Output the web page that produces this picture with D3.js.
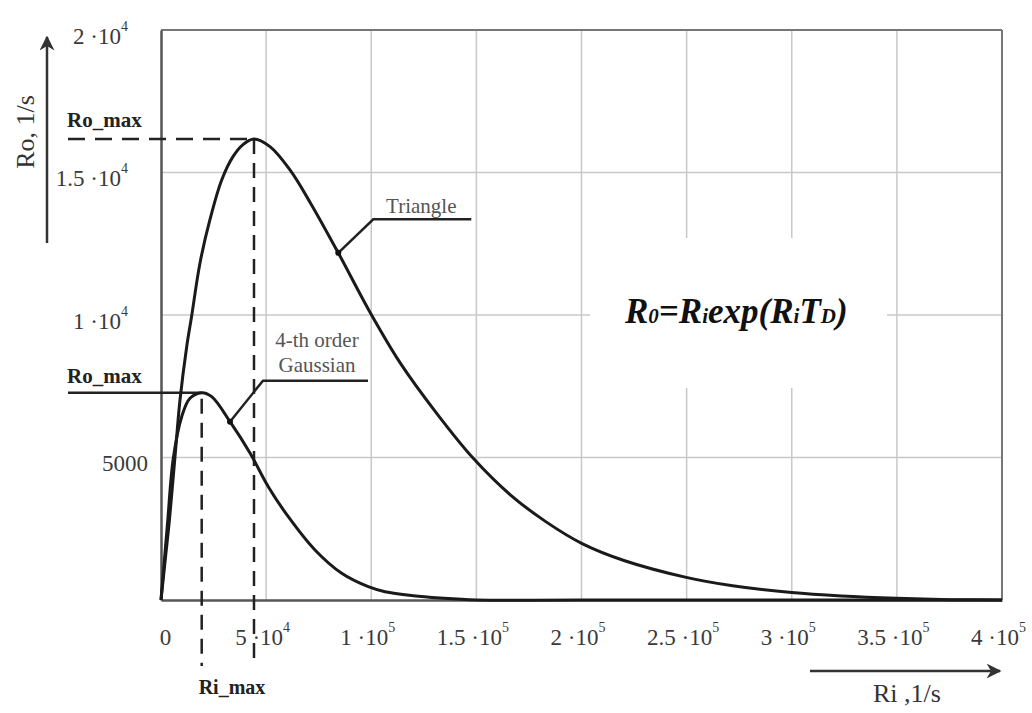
<!DOCTYPE html>
<html>
<head>
<meta charset="utf-8">
<script src="https://cdn.jsdelivr.net/npm/d3@7"></script>
<style>
  html, body { margin: 0; padding: 0; background: #fff; }
  svg { display: block; }
  text { font-family: "Liberation Serif", "Times New Roman", serif; }
</style>
</head>
<body>
<svg id="chart" width="1032" height="713"></svg>
<script>
// ---- data ----
const triangleRi = [0, 2000, 4000, 6660, 9036, 12220, 14600, 18550, 23300, 28870, 34240, 39000, 44230, 51840, 61350, 70860, 84320, 99540, 113670, 131120, 148530, 166000, 183000, 200300, 220200, 249800, 271900, 300000, 323600, 349800, 375300, 400000];
const triangleRo = [0, 1400, 2800, 5028, 7018, 8888, 9976, 11825, 13352, 14738, 15556, 15980, 16177, 15907, 15089, 13960, 12180, 10080, 8330, 6551, 4972, 3700, 2750, 1979, 1386, 794, 498, 261, 142, 59, 12, 0];

const gaussRi = [0, 3000, 5850, 9845, 13790, 19360, 24110, 32820, 42330, 51030, 60540, 73240, 85940, 98590, 106530, 120000, 132700, 150000, 200000, 400000];
const gaussRo = [0, 2600, 4972, 6432, 7077, 7274, 7134, 6257, 5158, 3976, 2923, 1755, 937, 467, 291, 150, 70, 0, 0, 0];

const xTicks = [0, 50000, 100000, 150000, 200000, 250000, 300000, 350000, 400000];
const xTickMant = ["0", "5", "1", "1.5", "2", "2.5", "3", "3.5", "4"];
const xTickExp = ["", "4", "5", "5", "5", "5", "5", "5", "5"];

const yTicks = [5000, 10000, 15000, 20000];
const yTickMant = ["5000", "1", "1.5", "2"];
const yTickExp = ["", "4", "4", "4"];

const xGrid = [50000, 100000, 150000, 200000, 250000, 300000, 350000];
const yGrid = [5000, 10000, 15000];

const triangleMaxIdx = 12;  // peak of Triangle curve
const gaussMaxIdx = 5;      // peak of Gaussian curve
const triangleLabelIdx = 16;
const gaussLabelIdx = 7;

// ---- drawing ----
const svg = d3.select("#chart");
const L = 161, R = 1002, T = 30, B = 600;
const x = d3.scaleLinear().domain([0, 400000]).range([L, R]);
const y = d3.scaleLinear().domain([0, 20000]).range([B, T]);

// grid
const grid = svg.append("g");
grid.selectAll("line.vx").data(xGrid).join("line")
  .attr("x1", d => x(d)).attr("x2", d => x(d)).attr("y1", T).attr("y2", B)
  .attr("stroke", "#c8c8c8").attr("stroke-width", 1.5);
grid.selectAll("line.hy").data(yGrid).join("line")
  .attr("x1", L).attr("x2", R).attr("y1", d => y(d)).attr("y2", d => y(d))
  .attr("stroke", "#c8c8c8").attr("stroke-width", 1.5);

// white box behind the formula
svg.append("rect").attr("x", 590).attr("y", 238).attr("width", 297).attr("height", 150).attr("fill", "#fff");

// frame
svg.append("line").attr("x1", L).attr("x2", R).attr("y1", T).attr("y2", T).attr("stroke", "#777").attr("stroke-width", 2);
svg.append("line").attr("x1", R).attr("x2", R).attr("y1", T).attr("y2", B).attr("stroke", "#777").attr("stroke-width", 2);

// axes via d3 axis generators (labels customised)
const xAxis = svg.append("g").attr("transform", `translate(0,${B})`)
  .call(d3.axisBottom(x).tickValues(xTicks).tickSize(0).tickFormat(""));
xAxis.select(".domain").attr("stroke", "#555").attr("stroke-width", 2.5);
xAxis.selectAll(".tick text").each(function(d, i) {
  const t = d3.select(this);
  t.attr("font-size", 23).attr("fill", "#3a3a3a").attr("text-anchor", "middle")
   .attr("dx", xTickExp[i] ? -4 : 4).attr("dy", 0).attr("y", 45);
  t.append("tspan").text(xTickMant[i]);
  if (xTickExp[i]) {
    t.append("tspan").text(" \u00b710");
    t.append("tspan").attr("font-size", 14).attr("dy", -13).text(xTickExp[i]);
  }
});

const yAxis = svg.append("g").attr("transform", `translate(${L},0)`)
  .call(d3.axisLeft(y).tickValues(yTicks).tickSize(0).tickPadding(0).tickFormat(""));
yAxis.select(".domain").attr("stroke", "#555").attr("stroke-width", 2.5);
yAxis.selectAll(".tick text").each(function(d, i) {
  const t = d3.select(this);
  t.attr("font-size", 23).attr("fill", "#3a3a3a").attr("text-anchor", "end")
   .attr("x", yTickExp[i] ? -33 : -13).attr("dy", 13);
  t.append("tspan").text(yTickMant[i]);
  if (yTickExp[i]) {
    t.append("tspan").text(" \u00b710");
    t.append("tspan").attr("font-size", 14).attr("dy", -13).text(yTickExp[i]);
  }
});

// curves
const line = d3.line().x(d => x(d[0])).y(d => Math.min(y(d[1]), B)).curve(d3.curveCatmullRom.alpha(0.5));
const triPts = triangleRi.map((r, i) => [r, triangleRo[i]]);
const gauPts = gaussRi.map((r, i) => [r, gaussRo[i]]);

// Ro_max / Ri_max guides
const tp = triPts[triangleMaxIdx], gp = gauPts[gaussMaxIdx];
svg.append("line").attr("x1", 68).attr("x2", x(tp[0])).attr("y1", y(tp[1])).attr("y2", y(tp[1]))
  .attr("stroke", "#222").attr("stroke-width", 2.5).attr("stroke-dasharray", "17,10");
svg.append("line").attr("x1", x(tp[0])).attr("x2", x(tp[0])).attr("y1", y(tp[1])).attr("y2", 666)
  .attr("stroke", "#222").attr("stroke-width", 2.5).attr("stroke-dasharray", "15,9");
svg.append("line").attr("x1", 68).attr("x2", x(gp[0])).attr("y1", y(gp[1])).attr("y2", y(gp[1]))
  .attr("stroke", "#222").attr("stroke-width", 2.5);
svg.append("line").attr("x1", x(gp[0])).attr("x2", x(gp[0])).attr("y1", y(gp[1]) + 6).attr("y2", 666)
  .attr("stroke", "#222").attr("stroke-width", 2.5).attr("stroke-dasharray", "15,9");

svg.append("path").datum(triPts).attr("d", line).attr("fill", "none").attr("stroke", "#1a1a1a").attr("stroke-width", 3);
svg.append("path").datum(gauPts).attr("d", line).attr("fill", "none").attr("stroke", "#1a1a1a").attr("stroke-width", 3);

// labels
svg.append("text").attr("x", 67).attr("y", 127).attr("font-size", 21).attr("font-weight", "bold").attr("fill", "#222").text("Ro_max");
svg.append("text").attr("x", 67).attr("y", 383).attr("font-size", 21).attr("font-weight", "bold").attr("fill", "#222").text("Ro_max");
svg.append("text").attr("x", 232).attr("y", 694).attr("text-anchor", "middle").attr("font-size", 20).attr("font-weight", "bold").attr("fill", "#222").text("Ri_max");

// Triangle leader
const tl = triPts[triangleLabelIdx];
const tx = x(tl[0]), ty = y(tl[1]);
svg.append("polyline").attr("points", `${tx},${ty} ${tx + 35},${ty - 33.5} ${tx + 133},${ty - 33.5}`)
  .attr("fill", "none").attr("stroke", "#222").attr("stroke-width", 2.5);
svg.append("circle").attr("cx", tx).attr("cy", ty).attr("r", 3).attr("fill", "#111");
svg.append("text").attr("x", tx + 83).attr("y", ty - 40).attr("text-anchor", "middle").attr("font-size", 21).attr("fill", "#555").text("Triangle");

// Gaussian leader
const gl = gauPts[gaussLabelIdx];
const gx = x(gl[0]), gy = y(gl[1]);
svg.append("polyline").attr("points", `${gx},${gy} ${gx + 33},${gy - 41} ${gx + 138},${gy - 41}`)
  .attr("fill", "none").attr("stroke", "#222").attr("stroke-width", 2.5);
svg.append("circle").attr("cx", gx).attr("cy", gy).attr("r", 3).attr("fill", "#111");
svg.append("text").attr("x", 317).attr("y", 347).attr("text-anchor", "middle").attr("font-size", 21).attr("fill", "#555").text("4-th order");
svg.append("text").attr("x", 317).attr("y", 372).attr("text-anchor", "middle").attr("font-size", 21).attr("fill", "#555").text("Gaussian");

// formula
const f = svg.append("text").attr("x", 625).attr("y", 323).attr("font-size", 35).attr("font-weight", "bold").attr("font-style", "italic").attr("fill", "#111");
f.append("tspan").text("R");
f.append("tspan").attr("font-size", 21).text("0");
f.append("tspan").text("=R");
f.append("tspan").attr("font-size", 21).text("i");
f.append("tspan").text("exp(R");
f.append("tspan").attr("font-size", 21).text("i");
f.append("tspan").text("T");
f.append("tspan").attr("font-size", 21).text("D");
f.append("tspan").text(")");

// axis arrows and titles
const defs = svg.append("defs");
defs.append("marker").attr("id", "arr").attr("viewBox", "0 0 10 10").attr("refX", 9).attr("refY", 5)
  .attr("markerWidth", 6).attr("markerHeight", 6).attr("orient", "auto")
  .append("path").attr("d", "M0,0 L10,5 L0,10 L3,5 Z").attr("fill", "#333");
svg.append("line").attr("x1", 47).attr("x2", 47).attr("y1", 243).attr("y2", 37)
  .attr("stroke", "#333").attr("stroke-width", 2.5).attr("marker-end", "url(#arr)");
svg.append("line").attr("x1", 810).attr("x2", 1000).attr("y1", 671).attr("y2", 671)
  .attr("stroke", "#333").attr("stroke-width", 2.5).attr("marker-end", "url(#arr)");

svg.append("text").attr("transform", "translate(34,132) rotate(-90)").attr("text-anchor", "middle")
  .attr("font-size", 26).attr("fill", "#333").text("Ro, 1/s");
const xt = svg.append("text").attr("x", 873).attr("y", 702).attr("font-size", 26).attr("fill", "#333");
xt.append("tspan").text("Ri");
xt.append("tspan").text(" ,");
xt.append("tspan").text("1/s");
</script>
</body>
</html>
